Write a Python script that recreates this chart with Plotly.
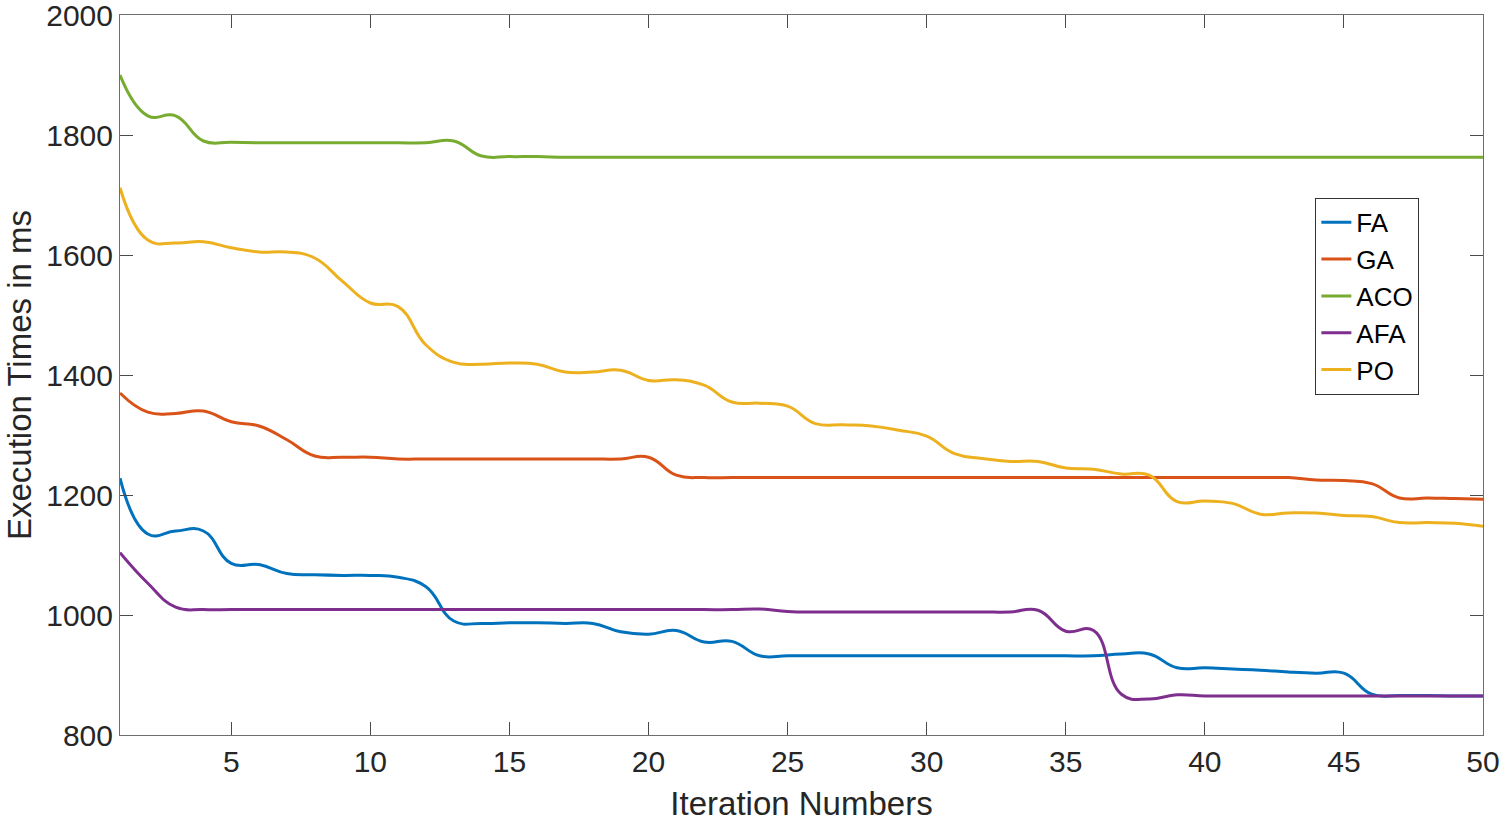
import plotly.graph_objects as go

iterations = list(range(1, 51))

fa = [1228, 1135, 1140, 1140, 1086, 1084, 1069, 1067, 1066, 1066,
      1063, 1047, 990, 986, 987, 987, 986, 986, 972, 968,
      974, 955, 956, 932, 932, 932, 932, 932, 932, 932,
      932, 932, 932, 932, 932, 932, 935, 935, 912, 912,
      910, 908, 905, 903, 903, 868, 866, 866, 865, 865]

ga = [1370, 1338, 1336, 1340, 1322, 1315, 1292, 1265, 1263, 1263,
      1260, 1260, 1260, 1260, 1260, 1260, 1260, 1260, 1260, 1263,
      1233, 1229, 1229, 1229, 1229, 1229, 1229, 1229, 1229, 1229,
      1229, 1229, 1229, 1229, 1229, 1229, 1229, 1229, 1229, 1229,
      1229, 1229, 1229, 1225, 1224, 1219, 1195, 1195, 1194, 1193]

aco = [1900, 1832, 1832, 1790, 1788, 1787, 1787, 1787, 1787, 1787,
       1787, 1787, 1790, 1765, 1764, 1764, 1763, 1763, 1763, 1763,
       1763, 1763, 1763, 1763, 1763, 1763, 1763, 1763, 1763, 1763,
       1763, 1763, 1763, 1763, 1763, 1763, 1763, 1763, 1763, 1763,
       1763, 1763, 1763, 1763, 1763, 1763, 1763, 1763, 1763, 1763]

afa = [1104, 1053, 1013, 1009, 1009, 1009, 1009, 1009, 1009, 1009,
       1009, 1009, 1009, 1009, 1009, 1009, 1009, 1009, 1009, 1009,
       1009, 1009, 1009, 1010, 1006, 1005, 1005, 1005, 1005, 1005,
       1005, 1005, 1005, 1008, 973, 974, 868, 860, 867, 865,
       865, 865, 865, 865, 865, 865, 865, 865, 865, 865]

po = [1712, 1625, 1620, 1622, 1612, 1605, 1605, 1595, 1556, 1520,
      1514, 1450, 1421, 1418, 1420, 1418, 1405, 1405, 1408, 1391,
      1392, 1383, 1355, 1353, 1348, 1319, 1317, 1315, 1308, 1298,
      1269, 1261, 1256, 1256, 1245, 1243, 1235, 1233, 1189, 1190,
      1186, 1168, 1170, 1170, 1166, 1164, 1154, 1154, 1153, 1148]

series_names = ["FA", "GA", "ACO", "AFA", "PO"]
series_values = [fa, ga, aco, afa, po]
series_colors = ["#0072BD", "#D95319", "#77AC30", "#7E2F8E", "#EDB120"]

x_ticks = [5, 10, 15, 20, 25, 30, 35, 40, 45, 50]
y_ticks = [800, 1000, 1200, 1400, 1600, 1800, 2000]

fig = go.Figure()
for name, vals, col in zip(series_names, series_values, series_colors):
    fig.add_trace(go.Scatter(
        x=iterations, y=vals, name=name, mode="lines",
        line=dict(color=col, width=3, shape="spline", smoothing=1.3),
    ))

font_family = "Liberation Sans, Arial, Helvetica, sans-serif"
axis_common = dict(
    showgrid=False, zeroline=False, showline=True, linecolor="#6e6e6e",
    linewidth=1, mirror="ticks", ticks="inside", ticklen=13,
    tickcolor="#4a4a4a", tickwidth=1, automargin=False,
    ticklabeloverflow="allow",
    tickfont=dict(family=font_family, size=30, color="#262626"),
)

fig.update_layout(
    width=1501, height=826,
    margin=dict(l=120, r=18, t=15, b=91),
    paper_bgcolor="white", plot_bgcolor="white",
    font=dict(family=font_family, color="#262626"),
    xaxis=dict(range=[1, 50], tickvals=x_ticks,
               title=dict(text="Iteration Numbers",
                          font=dict(family=font_family, size=33, color="#262626"),
                          standoff=14),
               **axis_common),
    yaxis=dict(range=[800, 2000], tickvals=y_ticks,
               title=dict(text="Execution Times in ms",
                          font=dict(family=font_family, size=33, color="#262626"),
                          standoff=4),
               **axis_common),
    legend=dict(x=0.877, y=0.746, xanchor="left", yanchor="top",
                bgcolor="white", bordercolor="#333333", borderwidth=1,
                font=dict(family=font_family, size=26, color="#000000"),
                itemwidth=30, tracegroupgap=0),
    showlegend=True,
)

fig.write_html("out.html",
               config={"displayModeBar": False},
               post_script="document.body.style.margin='0';document.body.style.overflow='hidden';")
